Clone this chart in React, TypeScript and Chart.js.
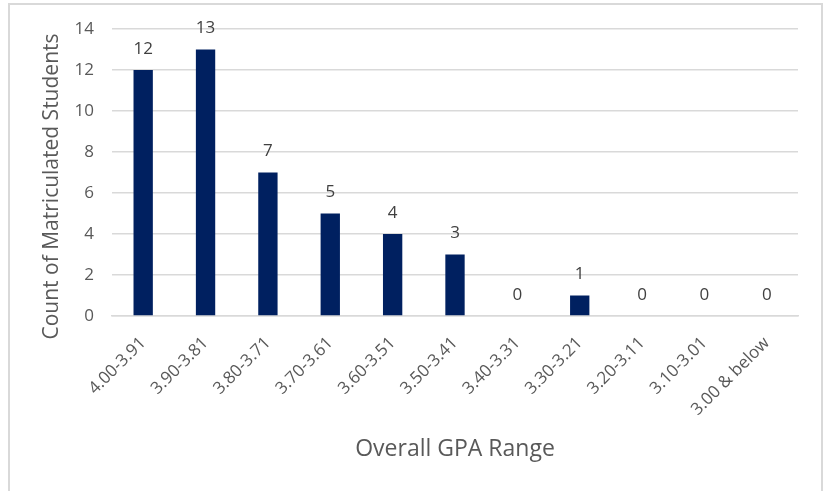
import React, { useEffect, useRef } from "react";
import { Chart, registerables } from "chart.js";

Chart.register(...registerables);

const categories = [
  "4.00-3.91",
  "3.90-3.81",
  "3.80-3.71",
  "3.70-3.61",
  "3.60-3.51",
  "3.50-3.41",
  "3.40-3.31",
  "3.30-3.21",
  "3.20-3.11",
  "3.10-3.01",
  "3.00 & below",
];
const counts = [12, 13, 7, 5, 4, 3, 0, 1, 0, 0, 0];
const yTicks = [0, 2, 4, 6, 8, 10, 12, 14];
const xTitle = "Overall GPA Range";
const yTitle = "Count of Matriculated Students";

const FONT = "'Open Sans', 'Noto Sans', sans-serif";
const TEXT = "#595959";

const dataLabelPlugin = {
  id: "dataLabels",
  afterDatasetsDraw(chart: any) {
    const ctx = chart.ctx;
    const meta = chart.getDatasetMeta(0);
    ctx.save();
    ctx.fillStyle = "#404040";
    ctx.font = `17px ${FONT}`;
    ctx.textAlign = "center";
    ctx.textBaseline = "middle";
    meta.data.forEach((bar: any, i: number) => {
      ctx.fillText(String(counts[i]), bar.x, bar.y - 21);
    });
    ctx.restore();
  },
};

const yTitlePlugin = {
  id: "yTitle",
  afterDraw(chart: any) {
    const ctx = chart.ctx;
    const area = chart.chartArea;
    ctx.save();
    ctx.fillStyle = TEXT;
    ctx.font = `21px ${FONT}`;
    ctx.textAlign = "center";
    ctx.textBaseline = "middle";
    ctx.translate(52, (area.top + area.bottom) / 2 + 14);
    ctx.rotate(-Math.PI / 2);
    ctx.fillText(yTitle, 0, 0);
    ctx.restore();
  },
};

const framePlugin = {
  id: "frame",
  beforeDraw(chart: any) {
    const ctx = chart.ctx;
    ctx.save();
    ctx.fillStyle = "#ffffff";
    ctx.fillRect(0, 0, chart.width, chart.height);
    ctx.strokeStyle = "#d9d9d9";
    ctx.lineWidth = 2;
    ctx.strokeRect(9, 4, 813, 520);
    ctx.restore();
  },
};

export default function App() {
  const ref = useRef<HTMLCanvasElement | null>(null);
  useEffect(() => {
    if (!ref.current) return;
    const chart = new Chart(ref.current, {
      type: "bar",
      data: {
        labels: categories,
        datasets: [
          {
            data: counts,
            backgroundColor: "#002060",
            barPercentage: 0.62,
            categoryPercentage: 0.5,
          },
        ],
      },
      options: {
        animation: false,
        responsive: true,
        maintainAspectRatio: false,
        layout: { padding: { top: 29, right: 27, left: 0, bottom: 0 } },
        plugins: {
          legend: { display: false },
          tooltip: { enabled: false },
        },
        scales: {
          x: {
            grid: { display: false, drawTicks: false },
            border: { display: true, color: "#d9d9d9", width: 1.5 },
            ticks: {
              maxRotation: 45,
              minRotation: 45,
              autoSkip: false,
              color: TEXT,
              padding: 17,
              font: { family: FONT, size: 17 },
            },
            title: {
              display: true,
              text: xTitle,
              color: TEXT,
              font: { family: FONT, size: 23 },
              padding: { top: 0, bottom: 28 },
            },
            afterFit(scale: any) {
              scale.height = 175;
            },
          },
          y: {
            min: 0,
            max: 14,
            afterBuildTicks(scale: any) {
              scale.ticks = yTicks.map((v) => ({ value: v }));
            },
            grid: { color: "#d9d9d9", lineWidth: 1.5, drawTicks: false },
            border: { display: false },
            ticks: {
              color: TEXT,
              padding: 18,
              font: { family: FONT, size: 17 },
            },
            afterFit(scale: any) {
              scale.width = 112;
            },
          },
        },
      },
      plugins: [framePlugin, dataLabelPlugin, yTitlePlugin],
    });
    return () => chart.destroy();
  }, []);
  return (
    <div style={{ position: "fixed", left: 0, top: 0, width: 825, height: 491 }}>
      <canvas ref={ref} />
    </div>
  );
}
